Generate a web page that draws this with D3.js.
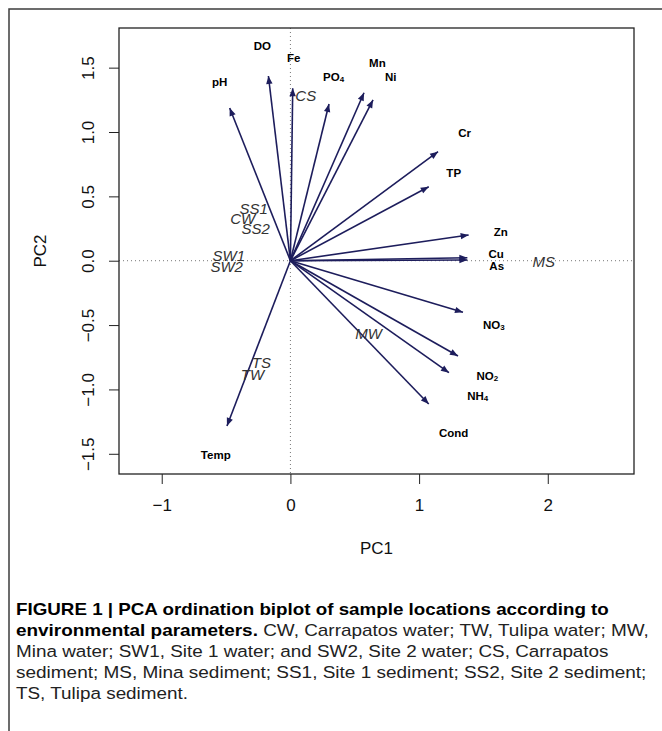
<!DOCTYPE html>
<html>
<head>
<meta charset="utf-8">
<script src="https://cdn.jsdelivr.net/npm/d3@7"></script>
<style>
  body { margin: 0; background: #fff; }
  svg { display: block; font-family: "Liberation Sans", Arial, Helvetica, sans-serif; }
</style>
</head>
<body>
<svg id="chart" width="662" height="731"></svg>
<script>
// environmental variables (loadings, arrow tips)
const varNames = ["pH", "DO", "Fe", "PO4", "Mn", "Ni", "Cr", "TP", "Zn", "Cu", "As", "NO3", "NO2", "NH4", "Cond", "Temp"];
const varPC1 = [-0.472, -0.171, 0.018, 0.300, 0.572, 0.642, 1.147, 1.075, 1.385, 1.375, 1.375, 1.341, 1.302, 1.232, 1.075, -0.493];
const varPC2 = [1.187, 1.435, 1.340, 1.218, 1.305, 1.249, 0.847, 0.575, 0.200, 0.023, 0.005, -0.401, -0.740, -0.870, -1.113, -1.284];
// where the variable names sit (they were placed by hand in the original)
const labelPC1 = [-0.549, -0.218, 0.026, 0.336, 0.676, 0.779, 1.354, 1.269, 1.634, 1.599, 1.603, 1.580, 1.531, 1.456, 1.269, -0.580];
const labelPC2 = [1.389, 1.668, 1.575, 1.427, 1.536, 1.427, 0.992, 0.681, 0.223, 0.052, -0.041, -0.497, -0.896, -1.051, -1.336, -1.510];

// sample scores
const siteNames = ["CS", "SS1", "CW", "SS2", "SW1", "SW2", "MS", "MW", "TS", "TW"];
const sitePC1 = [0.119, -0.286, -0.371, -0.270, -0.479, -0.495, 1.968, 0.608, -0.225, -0.295];
const sitePC2 = [1.280, 0.402, 0.324, 0.246, 0.037, -0.049, -0.007, -0.570, -0.793, -0.888];

// axes
const xTicks = [-1, 0, 1, 2];
const yTicks = [-1.5, -1.0, -0.5, 0.0, 0.5, 1.0, 1.5];
const xTitle = "PC1";
const yTitle = "PC2";

// caption, one entry per line
const captionLines = [
  [{ t: "FIGURE 1 | PCA ordination biplot of sample locations according to", b: true }],
  [{ t: "environmental parameters.", b: true }, { t: " CW, Carrapatos water; TW, Tulipa water; MW,", b: false }],
  [{ t: "Mina water; SW1, Site 1 water; and SW2, Site 2 water; CS, Carrapatos", b: false }],
  [{ t: "sediment; MS, Mina sediment; SS1, Site 1 sediment; SS2, Site 2 sediment;", b: false }],
  [{ t: "TS, Tulipa sediment.", b: false }]
];

let svg = d3.select("#chart");
let pLeft = 119, pRight = 634, pTop = 28, pBottom = 474;
let arrowColor = "#1d1d5c";

// outer figure frame (right and bottom run off the page)
svg.append("rect")
  .attr("x", 9).attr("y", 9)
  .attr("width", 700).attr("height", 760)
  .attr("fill", "none")
  .attr("stroke", "#3c3c3c")
  .attr("stroke-width", 1.5);

// equal units on both axes, like asp = 1 in R
let xScale = d3.scaleLinear().domain([-1.332, 2.670]).range([pLeft, pRight]);
let yScale = d3.scaleLinear().domain([-1.657, 1.808]).range([pBottom, pTop]);

// dotted zero lines
svg.append("line")
  .attr("x1", pLeft).attr("x2", pRight)
  .attr("y1", yScale(0)).attr("y2", yScale(0))
  .attr("stroke", "#777").attr("stroke-dasharray", "1,3");
svg.append("line")
  .attr("x1", xScale(0)).attr("x2", xScale(0))
  .attr("y1", pTop).attr("y2", pBottom)
  .attr("stroke", "#777").attr("stroke-dasharray", "1,3");

// axes
let xAxis = d3.axisBottom(xScale).tickValues(xTicks).tickSize(10).tickFormat(d3.format("d"));
let gx = svg.append("g")
  .attr("transform", "translate(0," + pBottom + ")")
  .call(xAxis);
gx.select(".domain").remove();
gx.selectAll("line").attr("stroke", "#222");
gx.selectAll("text")
  .attr("y", 37).attr("dy", 0)
  .attr("fill", "#111")
  .style("font-size", "17px");

let yAxis = d3.axisLeft(yScale).tickValues(yTicks).tickSize(10).tickFormat(d3.format(".1f"));
let gy = svg.append("g")
  .attr("transform", "translate(" + pLeft + ",0)")
  .call(yAxis);
gy.select(".domain").remove();
gy.selectAll("line").attr("stroke", "#222");
gy.selectAll("text")
  .attr("transform", "rotate(-90)")
  .attr("x", 0).attr("y", -25).attr("dy", 0)
  .attr("text-anchor", "middle")
  .attr("fill", "#111")
  .style("font-size", "17px");

// plot box
svg.append("rect")
  .attr("x", pLeft).attr("y", pTop)
  .attr("width", pRight - pLeft).attr("height", pBottom - pTop)
  .attr("fill", "none")
  .attr("stroke", "#222")
  .attr("stroke-width", 1.3);

// axis titles
svg.append("text")
  .attr("x", (pLeft + pRight) / 2).attr("y", 554)
  .attr("text-anchor", "middle")
  .style("font-size", "17px")
  .attr("fill", "#111")
  .text(xTitle);
svg.append("text")
  .attr("transform", "translate(46," + (pTop + pBottom) / 2 + ") rotate(-90)")
  .attr("text-anchor", "middle")
  .style("font-size", "17px")
  .attr("fill", "#111")
  .text(yTitle);

// arrows
let vars = varNames.map((n, i) => ({ name: n, x: varPC1[i], y: varPC2[i], lx: labelPC1[i], ly: labelPC2[i] }));
let x0 = xScale(0), y0 = yScale(0);

svg.append("g").selectAll("line").data(vars).enter().append("line")
  .attr("x1", x0).attr("y1", y0)
  .attr("x2", d => xScale(d.x)).attr("y2", d => yScale(d.y))
  .attr("stroke", arrowColor)
  .attr("stroke-width", 1.6);

// arrow heads, small filled triangles pointing along each arrow
svg.append("g").selectAll("path").data(vars).enter().append("path")
  .attr("d", "M0,0L-8,-3.2L-8,3.2Z")
  .attr("fill", arrowColor)
  .attr("transform", function (d) {
    let tx = xScale(d.x), ty = yScale(d.y);
    let ang = Math.atan2(ty - y0, tx - x0) * 180 / Math.PI;
    return "translate(" + tx + "," + ty + ") rotate(" + ang + ")";
  });

// variable names, trailing digit is set as a subscript
let vl = svg.append("g").selectAll("text").data(vars).enter().append("text")
  .attr("x", d => xScale(d.lx))
  .attr("y", d => yScale(d.ly))
  .attr("dy", "0.36em")
  .attr("text-anchor", "middle")
  .style("font-size", "11.5px")
  .style("font-weight", "bold")
  .attr("fill", "#000");
vl.each(function (d) {
  let m = d.name.match(/^(.*?)(\d)$/);
  let t = d3.select(this);
  if (m) {
    t.append("tspan").text(m[1]);
    t.append("tspan").attr("dy", 1).style("font-size", "8px").text(m[2]);
  } else {
    t.text(d.name);
  }
});

// sample names
let sites = siteNames.map((n, i) => ({ name: n, x: sitePC1[i], y: sitePC2[i] }));
svg.append("g").selectAll("text").data(sites).enter().append("text")
  .attr("x", d => xScale(d.x))
  .attr("y", d => yScale(d.y))
  .attr("dy", "0.36em")
  .attr("text-anchor", "middle")
  .style("font-size", "15px")
  .style("font-style", "italic")
  .attr("fill", "#333")
  .text(d => d.name);

// caption; the original face is condensed so each line is squeezed to its width
let capWidths = [593, 633, 593, 631, null];
let capY = [615, 636, 657, 678, 699];
let squeeze = 1;
captionLines.forEach(function (parts, i) {
  let t = svg.append("text")
    .attr("x", 0).attr("y", 0)
    .style("font-size", "17px")
    .attr("fill", "#222");
  parts.forEach(p => {
    t.append("tspan")
      .style("font-weight", p.b ? "bold" : "normal")
      .attr("fill", p.b ? "#000" : "#222")
      .text(p.t);
  });
  let w = t.node().getComputedTextLength();
  let k = capWidths[i] ? capWidths[i] / w : squeeze;
  if (i == 2) squeeze = k;
  t.attr("transform", "translate(16," + capY[i] + ") scale(" + k + ",1)");
});
</script>
</body>
</html>
